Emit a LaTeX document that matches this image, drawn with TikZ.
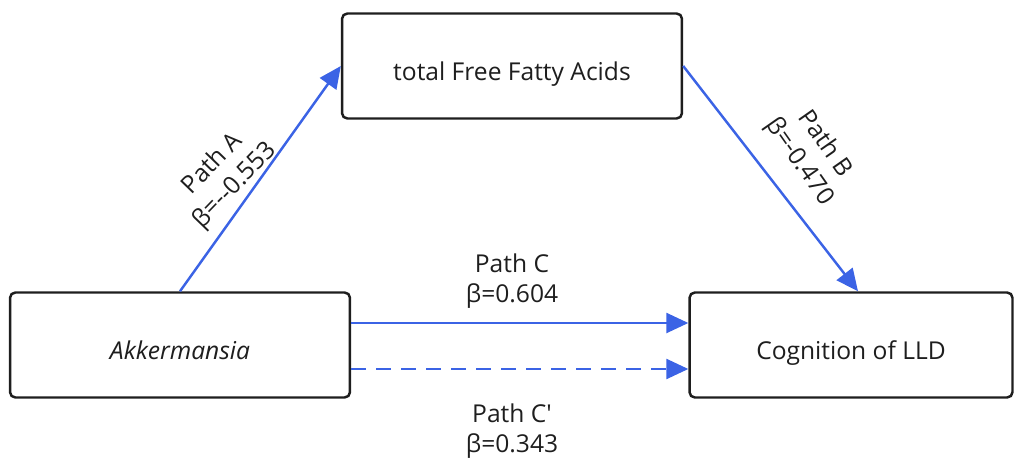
\documentclass[tikz,border=0pt]{standalone}
\usepackage{fontspec}
\setmainfont{Open Sans}
\usetikzlibrary{arrows.meta}
\definecolor{bleu}{RGB}{59,99,229}
\definecolor{encre}{RGB}{30,30,30}
\tikzset{
  boite/.style={draw=encre, line width=1.4pt, rounded corners=3pt, fill=white,
    align=center, text=encre, text height=0.58cm, text depth=0pt,
    font=\fontsize{14}{18}\selectfont},
  fleche/.style={bleu, line width=1.4pt, -{Triangle[length=0.44cm,width=0.4cm]}},
  etiquette/.style={align=center, text=encre, font=\fontsize{14}{17.5}\selectfont},
}
\begin{document}
\begin{tikzpicture}[x=0.02cm, y=-0.02cm]
  \useasboundingbox (0,0) rectangle (1017,459);

  % dessiner les boites
  \node[boite, minimum width=6.8cm, minimum height=2.1cm] (ffa) at (512,66) {total Free Fatty Acids};
  \node[boite, minimum width=6.8cm, minimum height=2.1cm] (akk) at (180,345) {\itshape Akkermansia};
  \node[boite, minimum width=6.46cm, minimum height=2.1cm] (cog) at (851,345) {Cognition of LLD};

  % dessiner les flèches
  \draw[fleche] (akk.north) -- (ffa.west);
  \draw[fleche] (ffa.east) -- ([xshift=0.14cm]cog.north);
  \draw[fleche] ([yshift=0.44cm]akk.east) -- ([yshift=0.44cm]cog.west);
  \draw[fleche, dash pattern=on 0.3cm off 0.2cm] ([yshift=-0.48cm]akk.east) -- ([yshift=-0.48cm]cog.west);

  % les étiquettes
  \node[etiquette, rotate=46] (labA) at (224,175) {Path A\\β=-{}-0.553};
  \node[etiquette, rotate=-55] (labB) at (812,153) {Path B\\β=-0.470};
  \node[etiquette] (labC) at (512,281) {Path C\\β=0.604};
  \node[etiquette] (labCp) at (512,431) {Path C\textquotesingle\\β=0.343};
\end{tikzpicture}
\end{document}
